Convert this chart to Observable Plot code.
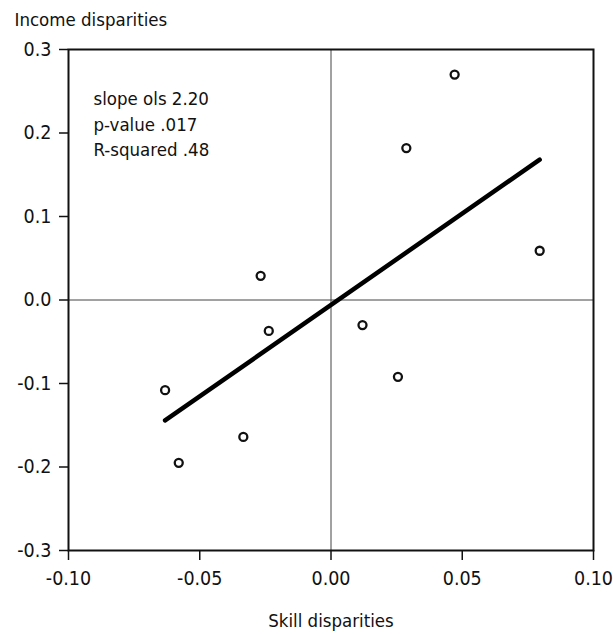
<!DOCTYPE html>
<html>
<head>
<meta charset="utf-8">
<script src="https://cdn.jsdelivr.net/npm/d3@7"></script>
<script src="https://cdn.jsdelivr.net/npm/@observablehq/plot@0.6"></script>
<style>
  body { margin: 0; background: #fff; }
  svg { font-family: "Liberation Sans Narrow", "DejaVu Sans Condensed", Roboto, sans-serif; }
  svg g[aria-label$="tick label"] { font-size: 19.5px !important; }
  svg g[aria-label$="tick label"] text { font-size: 19.5px !important; }
</style>
</head>
<body>
<div id="chart"></div>
<script>
const skill  = [0.0471, 0.0287, 0.0795, -0.0268, -0.0237, 0.0120, 0.0255, -0.0632, -0.0334, -0.0580];
const income = [0.270, 0.182, 0.059, 0.029, -0.037, -0.030, -0.092, -0.108, -0.164, -0.195];
const xTicks = [-0.10, -0.05, 0.00, 0.05, 0.10];
const yTicks = [-0.3, -0.2, -0.1, 0.0, 0.1, 0.2, 0.3];
const statsLines = ["slope ols 2.20", "p-value .017", "R-squared .48"];
const yTitle = "Income disparities";
const xTitle = "Skill disparities";

const data = skill.map((x, i) => ({x, y: income[i]}));
const font = "Liberation Sans Narrow, DejaVu Sans Condensed, Roboto, sans-serif";

const chart = Plot.plot({
  width: 613,
  height: 634,
  marginLeft: 68,
  marginRight: 20,
  marginTop: 49,
  marginBottom: 84,
  style: {fontFamily: font, fontSize: "19px", color: "#111", background: "#fff"},
  x: {domain: [-0.1, 0.1]},
  y: {domain: [-0.3, 0.3]},
  marks: [
    Plot.ruleX([0], {stroke: "#444", strokeWidth: 1}),
    Plot.ruleY([0], {stroke: "#444", strokeWidth: 1}),
    Plot.frame({stroke: "#111", strokeWidth: 2}),
    Plot.axisX({ticks: xTicks, tickFormat: d => d.toFixed(2), tickSize: 10, tickPadding: 11, strokeWidth: 1.5, label: null, fontSize: 19.5, fill: "#111"}),
    Plot.axisY({ticks: yTicks, tickFormat: d => d.toFixed(1), tickSize: 9, tickPadding: 8, strokeWidth: 1.5, label: null, fontSize: 19.5, fill: "#111"}),
    Plot.linearRegressionY(data, {x: "x", y: "y", ci: 0, stroke: "#000", strokeWidth: 4.5}),
    Plot.dot(data, {x: "x", y: "y", r: 4, stroke: "#111", strokeWidth: 2.3, fill: "none"}),
    Plot.text([statsLines.join("\n")], {frameAnchor: "top-left", textAnchor: "start", lineAnchor: "top", dx: 25, dy: 38, lineHeight: 1.36, fontSize: 18.5, fill: "#111"}),
    Plot.text([yTitle], {frameAnchor: "top-left", textAnchor: "start", lineAnchor: "middle", dx: -54, dy: -29, fontSize: 18.5, fill: "#111"}),
    Plot.text([xTitle], {frameAnchor: "bottom", textAnchor: "middle", lineAnchor: "middle", dy: 71, fontSize: 18.5, fill: "#111"})
  ]
});
document.getElementById("chart").appendChild(chart);
</script>
</body>
</html>
